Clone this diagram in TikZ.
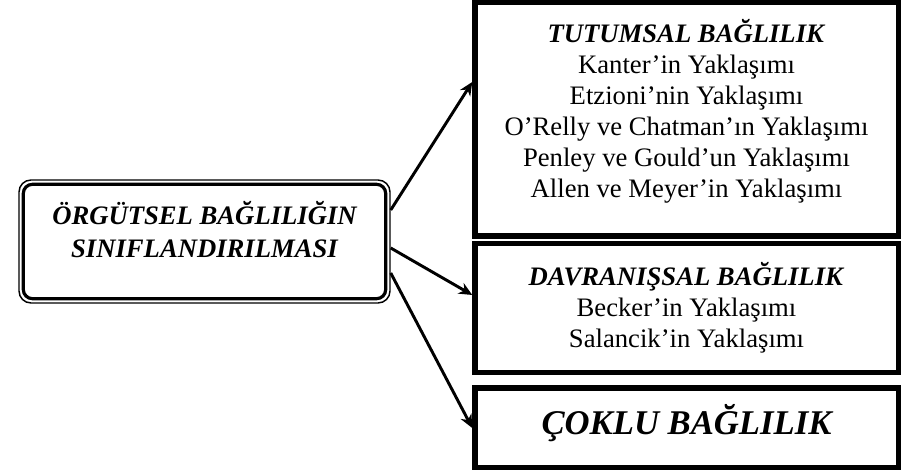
\documentclass[tikz,border=0pt]{standalone}
\usepackage{fontspec}
\setmainfont{Liberation Serif}
\usetikzlibrary{positioning, calc, arrows.meta}

\tikzset{
  sidebox/.style={draw, line width=2.6pt, minimum width=425*0.75pt, inner sep=0pt},
  sidetxt/.style={align=center, inner sep=0pt, font=\fontsize{20}{23.25}\selectfont},
  rootbox/.style={draw, line width=1.1pt, rounded corners=9pt, minimum width=371*0.75pt, minimum height=123*0.75pt, inner sep=0pt},
  roottxt/.style={align=center, inner sep=0pt, font=\fontsize{20}{24.75}\selectfont\bfseries\itshape},
  innerline/.style={line width=1.1pt},
  pointer/.style={line width=2.2pt, -{Stealth[length=10pt, width=9pt]}},
}

\begin{document}
\begin{tikzpicture}[x=0.75pt, y=-0.75pt]
\useasboundingbox (0,0) rectangle (906,470);

% left box
\node[rootbox] (root) at (204.5,241.5) {};
\draw[line width=2.4pt, rounded corners=7pt] ($(root.north west)+(5,5)$) rectangle ($(root.south east)+(-5,-5)$);
\node[roottxt] (rootlbl) at (204.5,230) {ÖRGÜTSEL BAĞLILIĞIN\\SINIFLANDIRILMASI};

% right boxes
\node[sidebox, minimum height=235*0.75pt] (tut) at (686.5,119.5) {};
\node[sidebox, minimum height=130*0.75pt] (dav) at (686.5,308) {};
\node[sidebox, minimum height=81*0.75pt] (cok) at (686.5,427.5) {};

\foreach \n in {tut,dav,cok}
  \draw[innerline] ($(\n.north west)+(4.5,4.5)$) rectangle ($(\n.south east)+(-4.5,-4.5)$);

\node[sidetxt] (tutlbl) at ($(tut)+(0,-8)$) {\textbf{\textit{TUTUMSAL BAĞLILIK}}\\Kanter'in Yaklaşımı\\Etzioni'nin Yaklaşımı\\O'Relly ve Chatman'ın Yaklaşımı\\Penley ve Gould'un Yaklaşımı\\Allen ve Meyer'in Yaklaşımı};
\node[sidetxt] (davlbl) at (dav) {\textbf{\textit{DAVRANIŞSAL BAĞLILIK}}\\Becker'in Yaklaşımı\\Salancik'in Yaklaşımı};
\node[sidetxt, font=\fontsize{26}{30}\selectfont\bfseries\itshape] (coklbl) at ($(cok)+(0,-4)$) {ÇOKLU BAĞLILIK};

% arrows
\draw[pointer] ($(root.east)+(0,-31.5)$) -- ($(tut.west)+(0,-37.5)$);
\draw[pointer] ($(root.east)+(0,6.5)$) -- ($(dav.west)+(0,-13)$);
\draw[pointer] ($(root.east)+(0,31.5)$) -- ($(cok.west)+(0,0.5)$);
\end{tikzpicture}
\end{document}
